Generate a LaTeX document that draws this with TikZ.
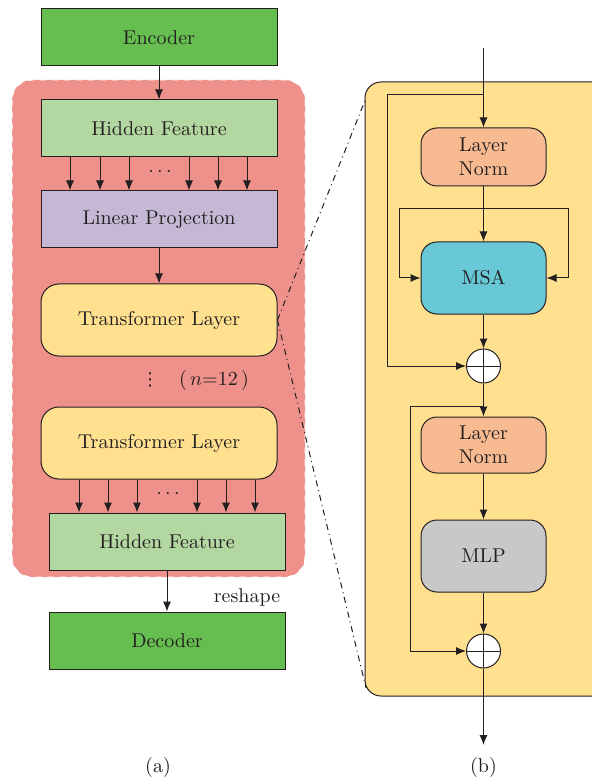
\documentclass[tikz,border=0pt]{standalone}
\usepackage{fontspec}
\usetikzlibrary{arrows.meta}
\newfontfamily\symfont{DejaVu Sans}
\definecolor{encgreen}{RGB}{102,189,80}
\definecolor{hfgreen}{RGB}{179,215,160}
\definecolor{projpurple}{RGB}{197,184,212}
\definecolor{redbg}{RGB}{238,145,138}
\definecolor{yellowbg}{RGB}{255,224,143}
\definecolor{normpeach}{RGB}{248,186,145}
\definecolor{msacyan}{RGB}{104,200,214}
\definecolor{mlpgray}{RGB}{200,200,200}
\definecolor{ink}{RGB}{35,31,32}
\begin{document}
\begin{tikzpicture}[x=0.5pt,y=-0.5pt,color=ink,line width=0.5pt,
    arr/.style={-{Latex[length=5pt,width=4pt]}},
    blk/.style={draw,minimum width=118pt,minimum height=28.5pt,inner sep=0pt},
    tblk/.style={blk,fill=yellowbg,rounded corners=9pt,minimum height=36pt},
    sblk/.style={draw,rounded corners=8pt,minimum width=62.5pt,inner sep=0pt,align=center},
    addop/.style={circle,draw,fill=white,minimum size=17pt,inner sep=0pt,
      path picture={\draw (path picture bounding box.north) -- (path picture bounding box.south);
                    \draw (path picture bounding box.west) -- (path picture bounding box.east);}}]
    \useasboundingbox (0,0) rectangle (592,780);

    \draw[white,dashed,fill=redbg,rounded corners=10pt] (12,80) rectangle (305,577);
    \draw[fill=yellowbg,rounded corners=8pt] (365,82) rectangle (612,696);

    \node[blk,fill=encgreen] (enc) at (159,37.5) {Encoder};
    \node[blk,fill=hfgreen] (hf1) at (159,128.5) {Hidden Feature};
    \node[blk,fill=projpurple] (lp) at (159,219.5) {Linear Projection};
    \node[tblk] (tl1) at (159,320) {Transformer Layer};
    \node (vd) at (150,380) {\symfont\small ⋮};
    \node (nl) at (214,380) {$(\,n{=}12\,)$};
    \node[tblk] (tl2) at (159,443) {Transformer Layer};
    \node[blk,fill=hfgreen] (hf2) at (167,541.5) {Hidden Feature};
    \node[blk,fill=encgreen] (dec) at (167,640.5) {Decoder};
    \node (rs) at (247,597) {reshape};
    \node (la) at (158,767) {(a)};

    \draw[arr] (enc) -- (hf1);
    \foreach \x in {70,100,129,189,218,247}
        \draw[arr] (hf1.south -| \x,0) -- (lp.north -| \x,0);
    \node (d1) at (160,172) {$\cdots$};
    \draw[arr] (lp) -- (tl1);
    \foreach \x in {79,108,137,197,226,255}
        \draw[arr] (tl2.south -| \x,0) -- (hf2.north -| \x,0);
    \node (d2) at (168,494) {$\cdots$};
    \draw[arr] (hf2) -- (dec);

    \draw[dash dot] (tl1.east) -- (366,98);
    \draw[dash dot] (tl1.east) -- (366,688);

    \coordinate (in) at (483.5,48);
    \coordinate (sk1) at (483.5,95);
    \coordinate (br1) at (483.5,209);
    \coordinate (sk2) at (483.5,406);
    \coordinate (out) at (483.5,745);
    \node[sblk,fill=normpeach,minimum height=29pt] (ln1) at (483.5,157) {Layer\\Norm};
    \node[sblk,fill=msacyan,minimum height=36pt] (msa) at (483.5,278) {MSA};
    \node[addop] (add1) at (483.5,366) {};
    \node[sblk,fill=normpeach,minimum height=28pt] (ln2) at (483.5,445) {Layer\\Norm};
    \node[sblk,fill=mlpgray,minimum height=36pt] (mlp) at (483.5,556) {MLP};
    \node[addop] (add2) at (483.5,651) {};
    \node (lb) at (483.5,767) {(b)};

    \draw[arr] (in) -- (ln1);
    \draw[arr] (sk1) -- ++(-96,0) |- (add1);
    \draw[arr] (ln1) -- (msa);
    \draw[arr] (br1) -- ++(-84,0) |- (msa);
    \draw[arr] (br1) -- ++(85,0) |- (msa);
    \draw[arr] (msa) -- (add1);
    \draw[arr] (add1) -- (ln2);
    \draw[arr] (sk2) -- ++(-73,0) |- (add2);
    \draw[arr] (ln2) -- (mlp);
    \draw[arr] (mlp) -- (add2);
    \draw[arr] (add2) -- (out);
\end{tikzpicture}
\end{document}
